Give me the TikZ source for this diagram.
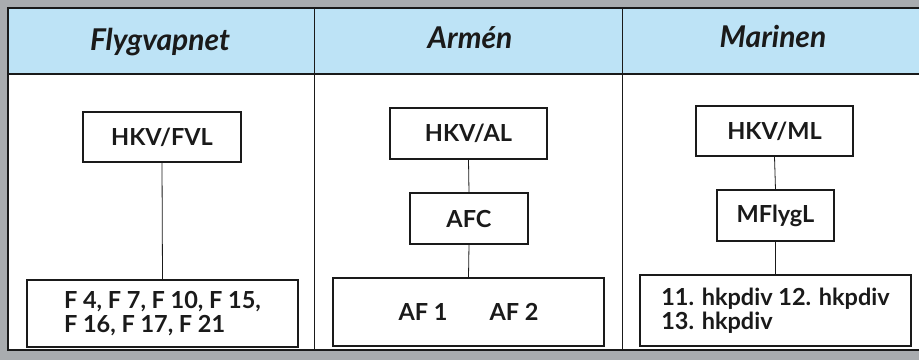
\documentclass[tikz,border=0pt]{standalone}
\usepackage{fontspec}
\setmainfont{Lato}
\definecolor{bggray}{HTML}{A9ACAF}
\definecolor{headblue}{HTML}{BDE3F6}
\definecolor{ink}{HTML}{1A1A1A}
\begin{document}
\begin{tikzpicture}[x=1pt,y=-1pt,
  orgbox/.style={draw=ink,line width=1.1pt,fill=white,inner sep=0pt,
    font=\fontsize{23.5}{24}\selectfont\bfseries,text=ink},
  head/.style={font=\fontsize{30}{32}\selectfont\bfseries\itshape,text=ink,anchor=base},
  link/.style={draw=ink,line width=0.8pt},
  rule/.style={draw=ink,line width=1.4pt}]
\useasboundingbox (0,0) rectangle (919,360);
\fill[bggray] (0,0) rectangle (919,360);
% table
\fill[white] (8,8) rectangle (930,350);
\fill[headblue] (8,8) rectangle (930,74);
\draw[rule] (8,8) rectangle (930,350);
\draw[rule] (8,74) -- (930,74);
\draw[line width=1pt,draw=ink] (314,8) -- (314,350);
\draw[line width=1pt,draw=ink] (622,8) -- (622,350);
% headers
\node[head] (h1) at (160,50) {Flygvapnet};
\node[head] (h2) at (470,48) {Armén};
\node[head] (h3) at (773,47) {Marinen};
% column 1
\node[orgbox,minimum width=158pt,minimum height=50pt] (fvl) at (162,137) {HKV/FVL};
\node[orgbox,minimum width=271pt,minimum height=67pt,align=left] (f) at (162.5,313.5) {F 4, F 7, F 10, F 15,\\F 16, F 17, F 21};
\draw[link] (fvl.south) -- (f.north);
% column 2
\node[orgbox,minimum width=157pt,minimum height=51pt] (al) at (468.5,133.5) {HKV/AL};
\node[orgbox,minimum width=118pt,minimum height=51pt] (afc) at (469,218.5) {AFC};
\node[orgbox,minimum width=271pt,minimum height=68pt] (af) at (468.5,312) {AF 1\hspace{42pt}AF 2};
\draw[link] (al.south) -- (afc.north);
\draw[link] (afc.south) -- (af.north);
% column 3
\node[orgbox,minimum width=157pt,minimum height=50pt] (ml) at (774.5,131) {HKV/ML};
\node[orgbox,minimum width=117pt,minimum height=51pt] (mfl) at (775.5,215.5) {MFlygL};
\node[orgbox,minimum width=271pt,minimum height=71pt,align=left] (hkp) at (775.5,310.5) {11. hkpdiv 12. hkpdiv\\13. hkpdiv};
\draw[link] (ml.south) -- (mfl.north);
\draw[link] (mfl.south) -- (hkp.north);
\end{tikzpicture}
\end{document}
